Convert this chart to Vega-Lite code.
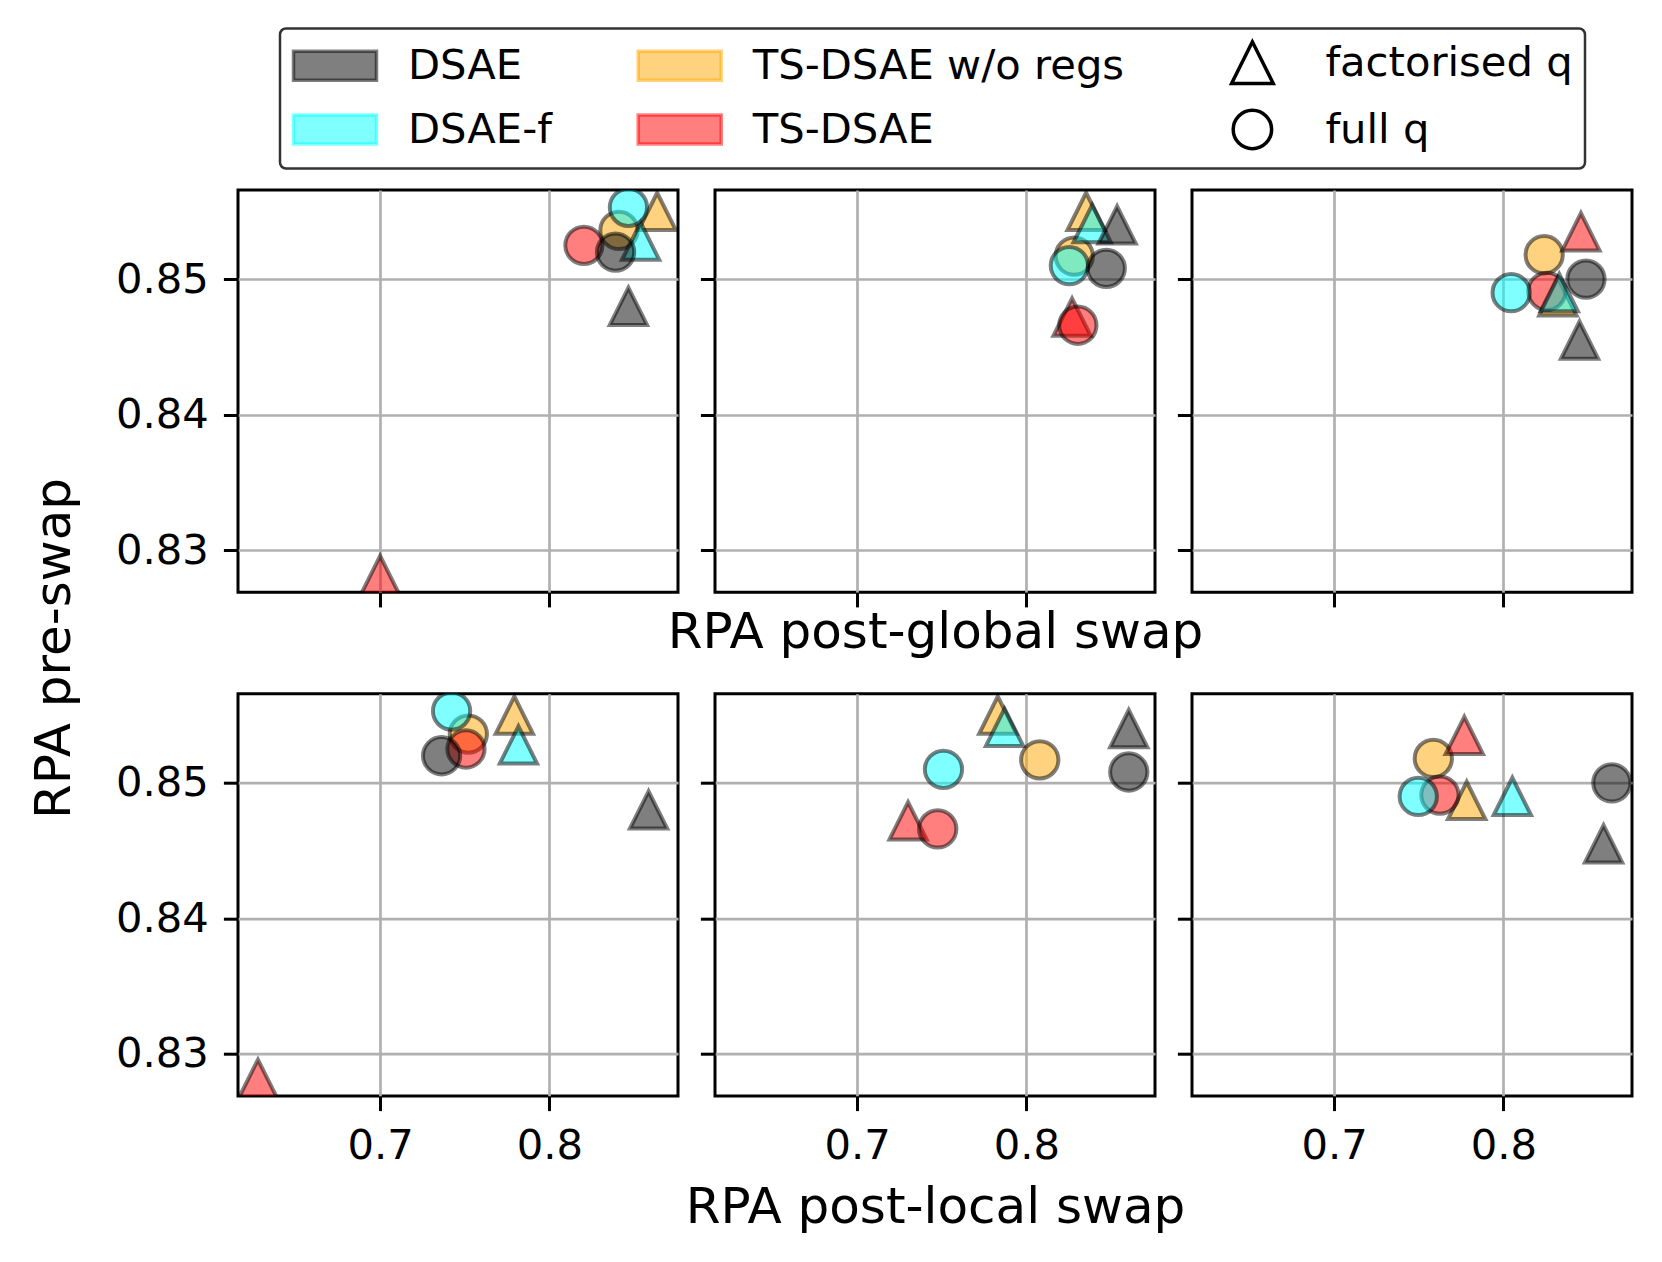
{
  "$schema": "https://vega.github.io/schema/vega-lite/v6.json",
  "background": "white",
  "padding": {"left": 27, "top": 27, "right": 28, "bottom": 20},
  "config": {
    "font": "DejaVu Sans",
    "view": {"stroke": "black", "strokeWidth": 3},
    "axis": {"domain": false, "grid": true, "gridColor": "#b0b0b0", "gridWidth": 2.7, "ticks": true, "tickColor": "black", "tickWidth": 3, "tickSize": 14.6, "labelFont": "DejaVu Sans", "labelFontSize": 41.7, "labelColor": "black", "labelPadding": 15, "labelFlush": false, "titleFont": "DejaVu Sans", "titleFontSize": 50, "titleFontWeight": "normal", "titleColor": "black", "zindex": 1},
    "legend": {"strokeWidth": 2.5}
  },
  "data": {"values": [
    {"col": 1, "model": "TS-DSAE w/o regs", "q": "factorised q", "pre": 0.8550, "post_global": 0.8637, "post_local": 0.7793},
    {"col": 1, "model": "TS-DSAE w/o regs", "q": "full q", "pre": 0.8536, "post_global": 0.8411, "post_local": 0.7521},
    {"col": 1, "model": "TS-DSAE", "q": "factorised q", "pre": 0.8282, "post_global": 0.7000, "post_local": 0.6278},
    {"col": 1, "model": "TS-DSAE", "q": "full q", "pre": 0.8525, "post_global": 0.8204, "post_local": 0.7507},
    {"col": 1, "model": "DSAE-f", "q": "factorised q", "pre": 0.8528, "post_global": 0.8539, "post_local": 0.7817},
    {"col": 1, "model": "DSAE-f", "q": "full q", "pre": 0.8553, "post_global": 0.8467, "post_local": 0.7422},
    {"col": 1, "model": "DSAE", "q": "factorised q", "pre": 0.8480, "post_global": 0.8467, "post_local": 0.8586},
    {"col": 1, "model": "DSAE", "q": "full q", "pre": 0.8520, "post_global": 0.8391, "post_local": 0.7363},
    {"col": 2, "model": "TS-DSAE w/o regs", "q": "factorised q", "pre": 0.8550, "post_global": 0.8353, "post_local": 0.7831},
    {"col": 2, "model": "TS-DSAE w/o regs", "q": "full q", "pre": 0.8517, "post_global": 0.8283, "post_local": 0.8079},
    {"col": 2, "model": "TS-DSAE", "q": "factorised q", "pre": 0.8472, "post_global": 0.8270, "post_local": 0.7301},
    {"col": 2, "model": "TS-DSAE", "q": "full q", "pre": 0.8466, "post_global": 0.8304, "post_local": 0.7476},
    {"col": 2, "model": "DSAE-f", "q": "factorised q", "pre": 0.8541, "post_global": 0.8389, "post_local": 0.7871},
    {"col": 2, "model": "DSAE-f", "q": "full q", "pre": 0.8510, "post_global": 0.8254, "post_local": 0.7510},
    {"col": 2, "model": "DSAE", "q": "factorised q", "pre": 0.8540, "post_global": 0.8536, "post_local": 0.8605},
    {"col": 2, "model": "DSAE", "q": "full q", "pre": 0.8508, "post_global": 0.8472, "post_local": 0.8605},
    {"col": 3, "model": "TS-DSAE w/o regs", "q": "factorised q", "pre": 0.8487, "post_global": 0.8322, "post_local": 0.7783},
    {"col": 3, "model": "TS-DSAE w/o regs", "q": "full q", "pre": 0.8518, "post_global": 0.8241, "post_local": 0.7586},
    {"col": 3, "model": "TS-DSAE", "q": "factorised q", "pre": 0.8535, "post_global": 0.8458, "post_local": 0.7769},
    {"col": 3, "model": "TS-DSAE", "q": "full q", "pre": 0.8491, "post_global": 0.8257, "post_local": 0.7625},
    {"col": 3, "model": "DSAE-f", "q": "factorised q", "pre": 0.8490, "post_global": 0.8330, "post_local": 0.8053},
    {"col": 3, "model": "DSAE-f", "q": "full q", "pre": 0.8490, "post_global": 0.8046, "post_local": 0.7497},
    {"col": 3, "model": "DSAE", "q": "factorised q", "pre": 0.8455, "post_global": 0.8450, "post_local": 0.8592},
    {"col": 3, "model": "DSAE", "q": "full q", "pre": 0.8500, "post_global": 0.8488, "post_local": 0.8641}
  ]},
  "columns": 3,
  "bounds": "flush",
  "spacing": {"row": 100.7, "column": 37},
  "concat": [
    {
      "width": 440, "height": 402.3,
      "transform": [{"filter": "datum.col == 1"}],
      "mark": {"type": "point", "filled": true, "opacity": 1, "strokeOpacity": 0.5, "strokeWidth": 4, "size": 1391, "clip": true},
      "encoding": {
        "x": {"field": "post_global", "type": "quantitative", "scale": {"domain": [0.616, 0.876], "nice": false, "zero": false}, "axis": {"values": [0.7, 0.8], "format": ".1f", "labels": false, "title": null}},
        "y": {"field": "pre", "type": "quantitative", "scale": {"domain": [0.82689, 0.85658], "nice": false, "zero": false}, "axis": {"values": [0.83, 0.84, 0.85], "format": ".2f", "title": "RPA pre-swap", "titleX": -169, "titleY": 458, "titleAngle": 270, "titleBaseline": "alphabetic", "titleAlign": "center"}},
        "color": {"field": "model", "type": "nominal", "scale": {"domain": ["DSAE", "DSAE-f", "TS-DSAE w/o regs", "TS-DSAE", "factorised q", "full q"], "range": ["rgba(0,0,0,0.5)", "rgba(0,255,255,0.5)", "rgba(255,165,0,0.5)", "rgba(255,0,0,0.5)", "transparent", "transparent"]},
          "legend": {"title": " ", "titleOrient": "left", "titlePadding": 21, "titleFontSize": 1, "orient": "none", "legendX": 42, "legendY": -161.5, "columns": 3, "columnPadding": 78.7, "rowPadding": 12, "padding": 12, "strokeColor": "#333333", "fillColor": "white", "cornerRadius": 6, "symbolSize": 1600, "symbolStrokeWidth": 3.5, "symbolOpacity": 1,
            "symbolType": {"expr": "datum.value == 'factorised q' ? 'M-2.075,0M0,-1.04L-1.04,1.04L1.04,1.04Z' : datum.value == 'full q' ? 'M-2.075,0M0.96,0A0.96,0.96,0,1,1,-0.96,0A0.96,0.96,0,1,1,0.96,0Z' : 'M-2.075,-0.725L2.075,-0.725L2.075,0.725L-2.075,0.725Z'"},
            "symbolStrokeColor": {"expr": "datum.value == 'DSAE' ? 'rgba(0,0,0,0.5)' : datum.value == 'DSAE-f' ? 'rgba(0,255,255,0.5)' : datum.value == 'TS-DSAE w/o regs' ? 'rgba(255,165,0,0.5)' : datum.value == 'TS-DSAE' ? 'rgba(255,0,0,0.5)' : 'black'"},
            "labelFont": "DejaVu Sans", "labelFontSize": 41.7, "labelColor": "black", "labelLimit": 1000, "labelOffset": 51}},
        "stroke": {"field": "q", "type": "nominal", "scale": {"domain": ["factorised q", "full q"], "range": ["black", "black"]}, "legend": null},
        "shape": {"field": "q", "type": "nominal", "scale": {"domain": ["factorised q", "full q"], "range": ["M0,-1L-1,1L1,1Z", "circle"]}, "legend": null}
      }
    },
    {
      "width": 440, "height": 402.3,
      "transform": [{"filter": "datum.col == 2"}],
      "mark": {"type": "point", "filled": true, "opacity": 1, "strokeOpacity": 0.5, "strokeWidth": 4, "size": 1391, "clip": true},
      "encoding": {
        "x": {"field": "post_global", "type": "quantitative", "scale": {"domain": [0.616, 0.876], "nice": false, "zero": false}, "axis": {"values": [0.7, 0.8], "format": ".1f", "labels": false, "title": "RPA post-global swap", "titleY": 55, "titleBaseline": "alphabetic"}},
        "y": {"field": "pre", "type": "quantitative", "scale": {"domain": [0.82689, 0.85658], "nice": false, "zero": false}, "axis": {"values": [0.83, 0.84, 0.85], "format": ".2f", "labels": false, "title": null}},
        "color": {"field": "model", "type": "nominal", "scale": {"domain": ["DSAE", "DSAE-f", "TS-DSAE w/o regs", "TS-DSAE", "factorised q", "full q"], "range": ["rgba(0,0,0,0.5)", "rgba(0,255,255,0.5)", "rgba(255,165,0,0.5)", "rgba(255,0,0,0.5)", "transparent", "transparent"]}},
        "stroke": {"field": "q", "type": "nominal", "scale": {"domain": ["factorised q", "full q"], "range": ["black", "black"]}, "legend": null},
        "shape": {"field": "q", "type": "nominal", "scale": {"domain": ["factorised q", "full q"], "range": ["M0,-1L-1,1L1,1Z", "circle"]}, "legend": null}
      }
    },
    {
      "width": 440, "height": 402.3,
      "transform": [{"filter": "datum.col == 3"}],
      "mark": {"type": "point", "filled": true, "opacity": 1, "strokeOpacity": 0.5, "strokeWidth": 4, "size": 1391, "clip": true},
      "encoding": {
        "x": {"field": "post_global", "type": "quantitative", "scale": {"domain": [0.616, 0.876], "nice": false, "zero": false}, "axis": {"values": [0.7, 0.8], "format": ".1f", "labels": false, "title": null}},
        "y": {"field": "pre", "type": "quantitative", "scale": {"domain": [0.82689, 0.85658], "nice": false, "zero": false}, "axis": {"values": [0.83, 0.84, 0.85], "format": ".2f", "labels": false, "title": null}},
        "color": {"field": "model", "type": "nominal", "scale": {"domain": ["DSAE", "DSAE-f", "TS-DSAE w/o regs", "TS-DSAE", "factorised q", "full q"], "range": ["rgba(0,0,0,0.5)", "rgba(0,255,255,0.5)", "rgba(255,165,0,0.5)", "rgba(255,0,0,0.5)", "transparent", "transparent"]}},
        "stroke": {"field": "q", "type": "nominal", "scale": {"domain": ["factorised q", "full q"], "range": ["black", "black"]}, "legend": null},
        "shape": {"field": "q", "type": "nominal", "scale": {"domain": ["factorised q", "full q"], "range": ["M0,-1L-1,1L1,1Z", "circle"]}, "legend": null}
      }
    },
    {
      "width": 440, "height": 402.3,
      "transform": [{"filter": "datum.col == 1"}],
      "mark": {"type": "point", "filled": true, "opacity": 1, "strokeOpacity": 0.5, "strokeWidth": 4, "size": 1391, "clip": true},
      "encoding": {
        "x": {"field": "post_local", "type": "quantitative", "scale": {"domain": [0.616, 0.876], "nice": false, "zero": false}, "axis": {"values": [0.7, 0.8], "format": ".1f", "title": null}},
        "y": {"field": "pre", "type": "quantitative", "scale": {"domain": [0.82689, 0.85658], "nice": false, "zero": false}, "axis": {"values": [0.83, 0.84, 0.85], "format": ".2f", "title": null}},
        "color": {"field": "model", "type": "nominal", "scale": {"domain": ["DSAE", "DSAE-f", "TS-DSAE w/o regs", "TS-DSAE", "factorised q", "full q"], "range": ["rgba(0,0,0,0.5)", "rgba(0,255,255,0.5)", "rgba(255,165,0,0.5)", "rgba(255,0,0,0.5)", "transparent", "transparent"]}},
        "stroke": {"field": "q", "type": "nominal", "scale": {"domain": ["factorised q", "full q"], "range": ["black", "black"]}, "legend": null},
        "shape": {"field": "q", "type": "nominal", "scale": {"domain": ["factorised q", "full q"], "range": ["M0,-1L-1,1L1,1Z", "circle"]}, "legend": null}
      }
    },
    {
      "width": 440, "height": 402.3,
      "transform": [{"filter": "datum.col == 2"}],
      "mark": {"type": "point", "filled": true, "opacity": 1, "strokeOpacity": 0.5, "strokeWidth": 4, "size": 1391, "clip": true},
      "encoding": {
        "x": {"field": "post_local", "type": "quantitative", "scale": {"domain": [0.616, 0.876], "nice": false, "zero": false}, "axis": {"values": [0.7, 0.8], "format": ".1f", "title": "RPA post-local swap", "titleY": 126.7, "titleBaseline": "alphabetic"}},
        "y": {"field": "pre", "type": "quantitative", "scale": {"domain": [0.82689, 0.85658], "nice": false, "zero": false}, "axis": {"values": [0.83, 0.84, 0.85], "format": ".2f", "labels": false, "title": null}},
        "color": {"field": "model", "type": "nominal", "scale": {"domain": ["DSAE", "DSAE-f", "TS-DSAE w/o regs", "TS-DSAE", "factorised q", "full q"], "range": ["rgba(0,0,0,0.5)", "rgba(0,255,255,0.5)", "rgba(255,165,0,0.5)", "rgba(255,0,0,0.5)", "transparent", "transparent"]}},
        "stroke": {"field": "q", "type": "nominal", "scale": {"domain": ["factorised q", "full q"], "range": ["black", "black"]}, "legend": null},
        "shape": {"field": "q", "type": "nominal", "scale": {"domain": ["factorised q", "full q"], "range": ["M0,-1L-1,1L1,1Z", "circle"]}, "legend": null}
      }
    },
    {
      "width": 440, "height": 402.3,
      "transform": [{"filter": "datum.col == 3"}],
      "mark": {"type": "point", "filled": true, "opacity": 1, "strokeOpacity": 0.5, "strokeWidth": 4, "size": 1391, "clip": true},
      "encoding": {
        "x": {"field": "post_local", "type": "quantitative", "scale": {"domain": [0.616, 0.876], "nice": false, "zero": false}, "axis": {"values": [0.7, 0.8], "format": ".1f", "title": null}},
        "y": {"field": "pre", "type": "quantitative", "scale": {"domain": [0.82689, 0.85658], "nice": false, "zero": false}, "axis": {"values": [0.83, 0.84, 0.85], "format": ".2f", "labels": false, "title": null}},
        "color": {"field": "model", "type": "nominal", "scale": {"domain": ["DSAE", "DSAE-f", "TS-DSAE w/o regs", "TS-DSAE", "factorised q", "full q"], "range": ["rgba(0,0,0,0.5)", "rgba(0,255,255,0.5)", "rgba(255,165,0,0.5)", "rgba(255,0,0,0.5)", "transparent", "transparent"]}},
        "stroke": {"field": "q", "type": "nominal", "scale": {"domain": ["factorised q", "full q"], "range": ["black", "black"]}, "legend": null},
        "shape": {"field": "q", "type": "nominal", "scale": {"domain": ["factorised q", "full q"], "range": ["M0,-1L-1,1L1,1Z", "circle"]}, "legend": null}
      }
    }
  ]
}
